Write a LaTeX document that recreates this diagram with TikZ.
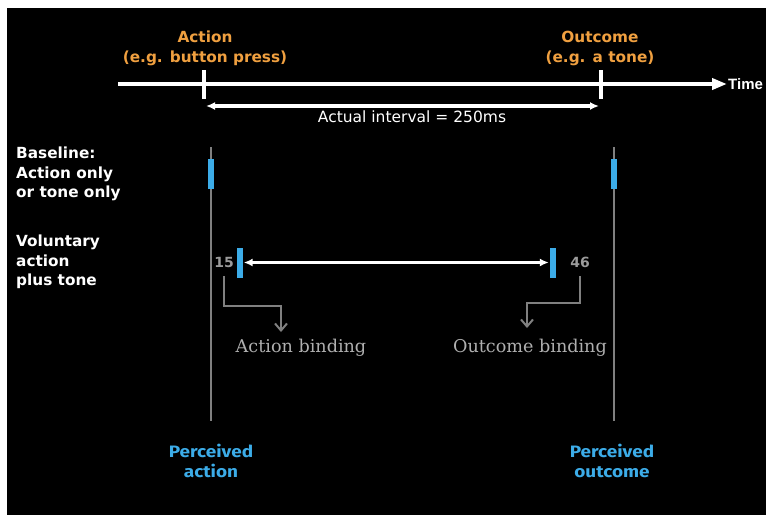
\documentclass[tikz,border=0pt]{standalone}
\usepackage{fontspec}
\setmainfont{DejaVu Sans}
\newfontfamily\timefont{Liberation Sans}
\newfontfamily\percfont{Fira Sans}[FakeStretch=1.15]
\newfontfamily\bindfont{DejaVu Serif}
\usetikzlibrary{arrows.meta}

\definecolor{actorange}{RGB}{240,160,64}
\definecolor{percblue}{RGB}{60,172,232}
\definecolor{linegray}{RGB}{128,128,128}
\definecolor{numgray}{RGB}{155,155,155}
\definecolor{bindgray}{RGB}{175,175,175}

\begin{document}
\begin{tikzpicture}[x=1pt,y=-1pt,
	toplab/.style={text=actorange,font=\bfseries\fontsize{15.3}{20}\selectfont,align=center},
	rowlab/.style={text=white,font=\bfseries\fontsize{15.3}{19.5}\selectfont,align=left,anchor=west,inner sep=0pt},
	perclab/.style={text=percblue,font=\percfont\bfseries\fontsize{16.5}{20}\selectfont,align=center},
	bar/.style={fill=percblue,minimum width=6pt,minimum height=30pt,inner sep=0pt},
	num/.style={text=numgray,font=\bfseries\fontsize{14}{14}\selectfont,inner sep=1pt},
	bindlab/.style={text=bindgray,font=\bindfont\fontsize{17.6}{20}\selectfont},
	bind/.style={draw=linegray,line width=2pt,-{Straight Barb[length=7pt,width=12pt]}},
	perc/.style={draw=linegray,line width=2pt},
	interval/.style={white,line width=3.5pt,{Latex[length=9pt,width=8pt]}-{Latex[length=9pt,width=8pt]}}]
	\fill[white] (0,0) rectangle (766,515);%Rand
	\fill[black] (7,8) rectangle (766,515);%Hintergrund
	
	\coordinate (t0) at (118,84);
	\coordinate (t1) at (727,84);
	\draw[white,line width=4.5pt,-{Triangle[length=15pt,width=11pt]}] (t0) -- (t1);%Zeitachse
	\node[anchor=west,inner sep=1pt,text=white,font=\timefont\bfseries\fontsize{15}{15}\selectfont] (time) at (t1) {Time};
	
	\coordinate (act) at (204,84);
	\coordinate (out) at (601,84);
	\draw[white,line width=4.5pt] (act) ++(0,-14) -- ++(0,29);%Strich Handlung
	\draw[white,line width=4.5pt] (out) ++(0,-14) -- ++(0,29);%Strich Ton
	\node[toplab] (actlab) at (205,48) {Action\\(e.g. button press)};
	\node[toplab] (outlab) at (600,48) {Outcome\\(e.g. a tone)};
	
	\coordinate (ia) at (206,106);
	\coordinate (ib) at (599,106);
	\draw[interval] (ia) -- (ib);
	\node[text=white,font=\fontsize{15.5}{15.5}\selectfont] (ilab) at (412,117) {Actual interval = 250ms};
	
	\node[rowlab] (base) at (16,174) {Baseline:\\Action only\\or tone only};
	\node[rowlab] (vol) at (16,262) {Voluntary\\action\\plus tone};
	
	\coordinate (pa0) at (211,147);
	\coordinate (pa1) at (211,421);
	\coordinate (po0) at (614,147);
	\coordinate (po1) at (614,421);
	\draw[perc] (pa0) -- (pa1);%wahrgenommene Handlung
	\draw[perc] (po0) -- (po1);%wahrgenommener Ton
	
	\node[bar] (ba) at (211,174) {};
	\node[bar] (bo) at (614,174) {};
	\node[bar] (va) at (239.5,262.5) {};
	\node[bar] (vo) at (553,262.5) {};
	\draw[interval,shorten <=1pt,shorten >=1pt] (va.east) -- (vo.west);
	
	\node[num] (n15) at (224,262) {15};
	\node[num] (n46) at (580,262) {46};
	
	\coordinate (abend) at (281,306);
	\coordinate (atip) at (281,332);
	\coordinate (obend) at (527,303);
	\coordinate (otip) at (527,328);
	\draw[bind,shorten <=8pt] (n15.south) |- (abend) -- (atip);
	\draw[bind,shorten <=8pt] (n46.south) |- (obend) -- (otip);
	\node[bindlab] (abind) at (301,348) {Action binding};
	\node[bindlab] (obind) at (530,348) {Outcome binding};
	
	\node[perclab] (pact) at (211,461) {Perceived\\action};
	\node[perclab] (pout) at (612,461) {Perceived\\outcome};
\end{tikzpicture}
\end{document}
